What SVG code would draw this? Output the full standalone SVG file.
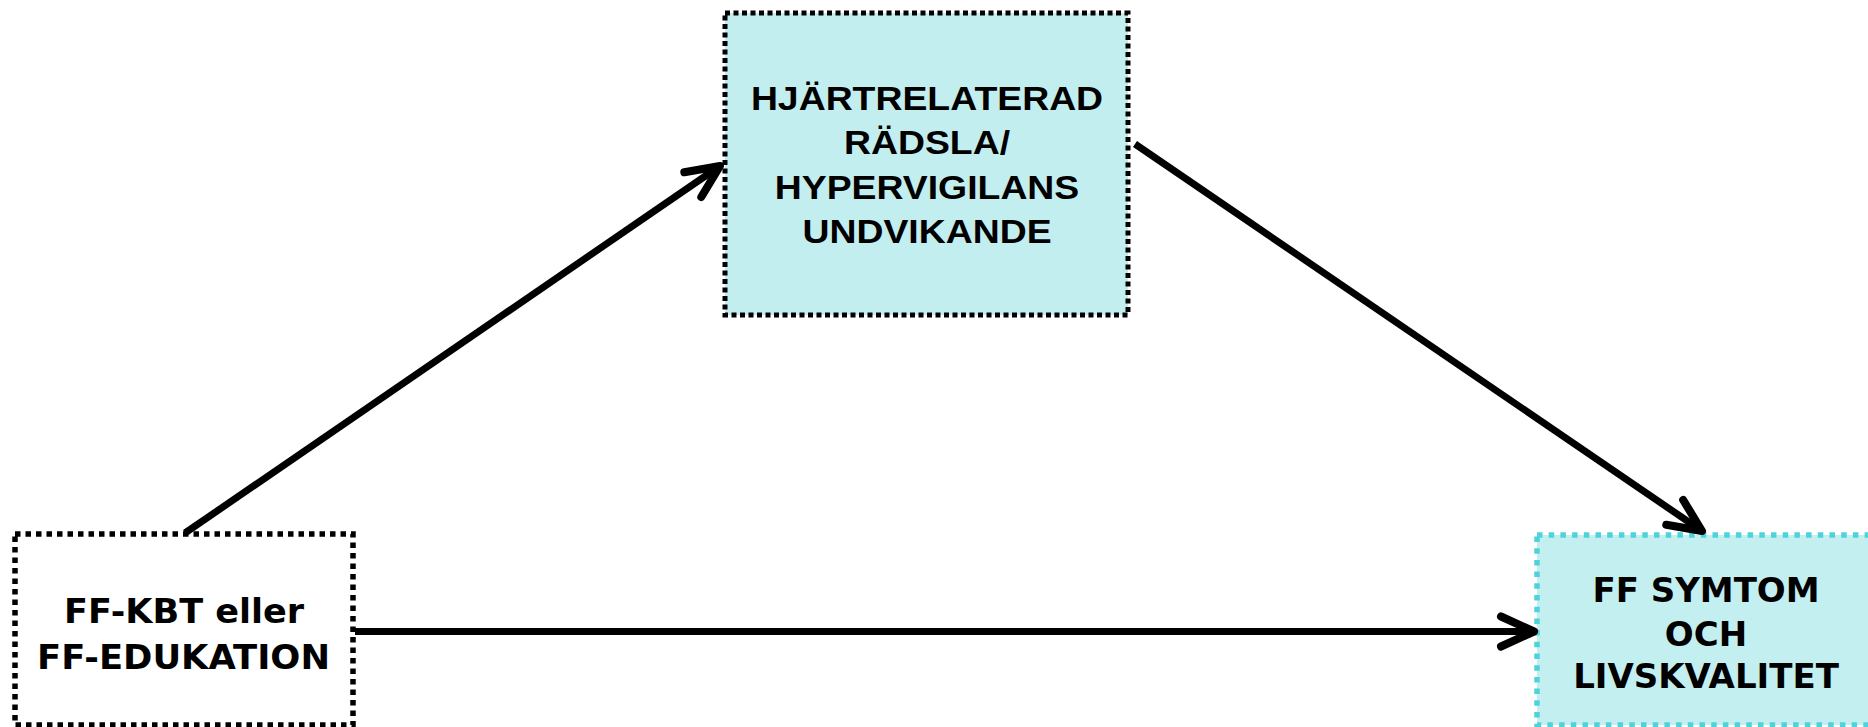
<svg xmlns="http://www.w3.org/2000/svg" width="1868" height="727" viewBox="0 0 1868 727">
<style>
.sans{font-family:"Liberation Sans",Arial,sans-serif;font-weight:bold;font-size:32.5px;fill:#000}
.dv{font-family:"DejaVu Sans",sans-serif;font-weight:bold;font-size:34px;fill:#000}
.conn{stroke:#000;stroke-width:7;fill:none}
</style>
<defs>
<marker id="arr" markerUnits="userSpaceOnUse" viewBox="-44 -22 50 44" refX="0" refY="0" markerWidth="50" markerHeight="44" orient="auto" overflow="visible">
<path d="M-33,-15 L0,0 L-33,15" fill="none" stroke="#000" stroke-width="8" stroke-linecap="round" stroke-linejoin="round"/>
</marker>
</defs>
<rect width="1868" height="727" fill="#fff"/>
<g id="node-mediator">
<rect x="725" y="13" width="403" height="302" fill="#C3EEF0" stroke="#000" stroke-width="5" stroke-dasharray="5 3.5"/>
<g class="sans" text-anchor="middle">
<text transform="translate(927,110) scale(1.15,1)">HJÄRTRELATERAD</text>
<text transform="translate(927,154) scale(1.15,1)">RÄDSLA/</text>
<text transform="translate(927,199) scale(1.15,1)">HYPERVIGILANS</text>
<text transform="translate(927,243) scale(1.15,1)">UNDVIKANDE</text>
</g>
</g>
<g id="node-intervention">
<rect x="15" y="534" width="338" height="191" fill="#fff" stroke="#000" stroke-width="5.5" stroke-dasharray="5.5 5"/>
<g class="dv">
<text x="64" y="623" textLength="240" lengthAdjust="spacingAndGlyphs">FF-KBT eller</text>
<text x="37" y="669" textLength="293" lengthAdjust="spacingAndGlyphs">FF-EDUKATION</text>
</g>
</g>
<g id="node-outcome">
<rect x="1537" y="535" width="340" height="190" fill="#C3EFF0" stroke="#4FD3DA" stroke-width="5.5" stroke-dasharray="5.5 6.2"/>
<g class="dv" text-anchor="middle">
<text x="1706" y="602">FF SYMTOM</text>
<text x="1706" y="646">OCH</text>
<text x="1706" y="688">LIVSKVALITET</text>
</g>
</g>
<g id="connectors">
<line class="conn" x1="185" y1="533" x2="720" y2="166" marker-end="url(#arr)"/>
<line class="conn" x1="1135" y1="144" x2="1702" y2="531" marker-end="url(#arr)"/>
<line class="conn" x1="355" y1="631.5" x2="1534" y2="631.5" marker-end="url(#arr)"/>
</g>
</svg>
